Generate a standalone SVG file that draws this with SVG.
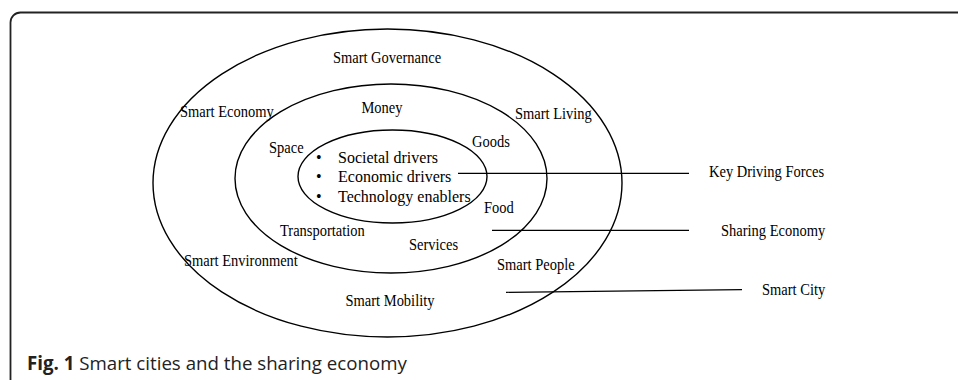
<svg xmlns="http://www.w3.org/2000/svg" width="958" height="380" viewBox="0 0 958 380">
<style>
.e{fill:none;stroke:#000;stroke-width:1.4}
.c{stroke:#000;stroke-width:1.2;fill:none}
.t{font-family:"Liberation Serif","Times New Roman",serif;font-size:14.5px;fill:#000}
.b{font-family:"Liberation Serif","Times New Roman",serif;font-size:16px;fill:#000}
.cap{font-family:"Open Sans","Noto Sans",sans-serif;font-size:18.7px;fill:#222}
</style>
<rect x="10.5" y="12.5" width="980" height="400" rx="10" fill="none" stroke="#222" stroke-width="1.8"/>
<g id="smart-city">
<ellipse class="e" cx="387.5" cy="183" rx="234.5" ry="154"/>
<text class="t" transform="translate(387,63) scale(1,1.15)" text-anchor="middle">Smart Governance</text>
<text class="t" transform="translate(180,117) scale(1,1.15)">Smart Economy</text>
<text class="t" transform="translate(515,119) scale(1,1.15)">Smart Living</text>
<text class="t" transform="translate(184,266) scale(1,1.15)">Smart Environment</text>
<text class="t" transform="translate(497,270) scale(1,1.15)">Smart People</text>
<text class="t" transform="translate(390,306) scale(1,1.15)" text-anchor="middle">Smart Mobility</text>
</g>
<g id="sharing-economy">
<ellipse class="e" cx="391" cy="178.5" rx="156" ry="94.5"/>
<text class="t" transform="translate(382,113) scale(1,1.15)" text-anchor="middle">Money</text>
<text class="t" transform="translate(269,153) scale(1,1.15)">Space</text>
<text class="t" transform="translate(472,147) scale(1,1.15)">Goods</text>
<text class="t" transform="translate(484,213) scale(1,1.15)">Food</text>
<text class="t" transform="translate(280,236) scale(1,1.15)">Transportation</text>
<text class="t" transform="translate(409,250) scale(1,1.15)">Services</text>
</g>
<g id="key-driving-forces">
<ellipse class="e" cx="392.5" cy="176.5" rx="94.5" ry="46.5"/>
<text class="b" x="316" y="163">•</text>
<text class="b" x="338" y="163">Societal drivers</text>
<text class="b" x="316" y="182">•</text>
<text class="b" x="338" y="182">Economic drivers</text>
<text class="b" x="316" y="201.5">•</text>
<text class="b" x="338" y="201.5">Technology enablers</text>
</g>
<g id="connectors">
<line class="c" x1="458" y1="173.3" x2="689" y2="173.3"/>
<line class="c" x1="492" y1="230.3" x2="689" y2="230.3"/>
<line class="c" x1="506" y1="292.3" x2="742" y2="289.7"/>
</g>
<g id="labels">
<text class="t" transform="translate(709,177) scale(1,1.15)">Key Driving Forces</text>
<text class="t" transform="translate(721,236) scale(1,1.15)">Sharing Economy</text>
<text class="t" transform="translate(762,295) scale(1,1.15)">Smart City</text>
</g>
<text class="cap" x="27" y="369.5"><tspan font-weight="bold">Fig. 1</tspan> Smart cities and the sharing economy</text>
</svg>
